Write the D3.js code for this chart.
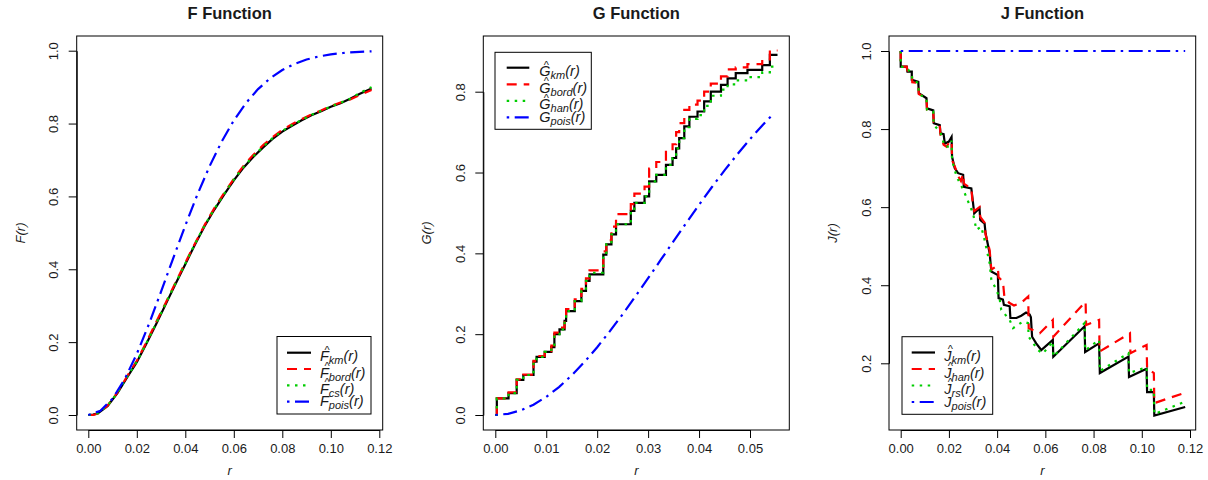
<!DOCTYPE html>
<html><head><meta charset="utf-8">
<script src="https://cdn.jsdelivr.net/npm/d3@7"></script>
<style>
body{margin:0;background:#fff}
svg{display:block}
text{font-family:"Liberation Sans",Arial,Helvetica,sans-serif;fill:#1a1a1a}
</style>
</head><body>
<svg id="c" width="1208" height="480"></svg>
<script>
// ---------------- DATA ----------------
// F function
const fR    = [0,0.002,0.004,0.008,0.012,0.016,0.020,0.024,0.028,0.032,0.036,0.040,0.044,0.048,0.052,0.056,0.060,0.064,0.068,0.072,0.076,0.080,0.084,0.088,0.092,0.096,0.100,0.104,0.108,0.112,0.1168];
const fKm   = [0,0.001,0.005,0.025,0.060,0.103,0.145,0.196,0.250,0.305,0.360,0.414,0.468,0.519,0.564,0.605,0.644,0.679,0.708,0.734,0.758,0.778,0.794,0.809,0.823,0.834,0.846,0.856,0.868,0.882,0.896];
const fBord = [0,0.000,0.004,0.026,0.062,0.106,0.149,0.200,0.255,0.309,0.364,0.418,0.471,0.522,0.568,0.609,0.648,0.684,0.714,0.740,0.763,0.783,0.798,0.812,0.825,0.836,0.848,0.858,0.866,0.879,0.892];
const fCs   = [0,0.001,0.005,0.026,0.061,0.105,0.147,0.198,0.252,0.307,0.362,0.416,0.470,0.521,0.566,0.607,0.646,0.681,0.710,0.736,0.760,0.780,0.796,0.810,0.824,0.835,0.847,0.857,0.868,0.884,0.900];
const fPoisR = [0,0.005,0.010,0.015,0.020,0.025,0.030,0.035,0.040,0.045,0.050,0.055,0.060,0.065,0.070,0.075,0.080,0.085,0.090,0.095,0.100,0.105,0.110,0.115,0.1168];
const fPois  = [0,0.0114,0.0449,0.0981,0.1677,0.2494,0.3384,0.4301,0.5202,0.6053,0.6826,0.7505,0.8084,0.8562,0.8945,0.9244,0.9470,0.9637,0.9757,0.9841,0.9899,0.9937,0.9961,0.9977,0.9982];

// G function (step functions)
const gR    = [0,0.0003,0.0026,0.0042,0.0055,0.0075,0.0081,0.0097,0.0110,0.0116,0.0126,0.0136,0.0139,0.0156,0.0169,0.0178,0.0185,0.0212,0.0218,0.0228,0.0237,0.0266,0.0273,0.0293,0.0302,0.0316,0.0335,0.0348,0.0355,0.0361,0.0371,0.0381,0.0397,0.0410,0.0423,0.0443,0.0456,0.0472,0.0495,0.0524,0.0539,0.0554];
const gKm   = [0,0.041,0.054,0.087,0.099,0.132,0.144,0.156,0.168,0.200,0.212,0.233,0.257,0.282,0.307,0.332,0.348,0.397,0.422,0.447,0.472,0.505,0.525,0.541,0.578,0.594,0.619,0.636,0.660,0.685,0.714,0.738,0.751,0.776,0.800,0.817,0.833,0.846,0.854,0.866,0.891,0.891];
const gBord = [0,0.041,0.056,0.088,0.100,0.134,0.146,0.158,0.172,0.204,0.216,0.238,0.262,0.286,0.312,0.338,0.358,0.405,0.432,0.466,0.497,0.522,0.548,0.565,0.610,0.626,0.655,0.670,0.700,0.722,0.755,0.768,0.778,0.800,0.820,0.838,0.855,0.860,0.868,0.880,0.902,0.902];
const gHan  = [0,0.041,0.054,0.087,0.099,0.132,0.144,0.156,0.168,0.200,0.212,0.233,0.257,0.282,0.307,0.332,0.352,0.397,0.422,0.447,0.472,0.505,0.525,0.541,0.578,0.594,0.619,0.636,0.660,0.685,0.712,0.733,0.742,0.765,0.790,0.805,0.818,0.828,0.836,0.848,0.862,0.862];
const gPoisR = [0,0.0025,0.005,0.0075,0.010,0.0125,0.015,0.0175,0.020,0.0225,0.025,0.0275,0.030,0.0325,0.035,0.0375,0.040,0.0425,0.045,0.0475,0.050,0.0525,0.0545];
const gPois  = [0,0.0029,0.0114,0.0255,0.0449,0.0692,0.0981,0.1312,0.1677,0.2074,0.2494,0.2933,0.3384,0.3842,0.4301,0.4756,0.5202,0.5636,0.6053,0.6450,0.6826,0.7178,0.7442];

// J function
const jKmR = [0,0,0.0025,0.0028,0.0046,0.0046,0.0073,0.0075,0.0107,0.0109,0.0135,0.0137,0.0162,0.0165,0.0178,0.0183,0.0200,0.0211,0.0213,0.0224,0.0238,0.0259,0.0262,0.0293,0.0297,0.0305,0.0327,0.0330,0.0348,0.0352,0.0369,0.0376,0.0403,0.0406,0.0424,0.0428,0.0452,0.0455,0.0480,0.0500,0.0520,0.0535,0.0540,0.0545,0.0562,0.0583,0.0631,0.0633,0.0763,0.0765,0.0823,0.0826,0.0945,0.0947,0.1020,0.1022,0.1050,0.1052,0.1180];
const jKm  = [1,0.96,0.96,0.947,0.947,0.926,0.921,0.892,0.879,0.853,0.848,0.815,0.81,0.789,0.787,0.763,0.768,0.78,0.729,0.70,0.687,0.683,0.652,0.648,0.627,0.584,0.597,0.567,0.558,0.533,0.482,0.435,0.426,0.367,0.363,0.35,0.346,0.316,0.316,0.322,0.33,0.325,0.318,0.268,0.251,0.234,0.26,0.217,0.295,0.229,0.251,0.175,0.217,0.165,0.186,0.126,0.126,0.066,0.088];
const jHanR = [0,0,0.0025,0.0028,0.0046,0.0048,0.0073,0.0075,0.0107,0.0109,0.0135,0.0137,0.0162,0.0165,0.0178,0.0190,0.0200,0.0211,0.0213,0.0224,0.0238,0.0250,0.0259,0.0262,0.0293,0.0297,0.0305,0.0327,0.0330,0.0348,0.0352,0.0369,0.0376,0.0395,0.0403,0.0406,0.0424,0.0430,0.0450,0.0470,0.0500,0.0529,0.0531,0.0577,0.0631,0.0633,0.0767,0.0769,0.0823,0.0825,0.0951,0.0953,0.1020,0.1022,0.1050,0.1052,0.1176];
const jHan  = [1,0.96,0.96,0.95,0.945,0.92,0.918,0.89,0.88,0.85,0.845,0.818,0.81,0.785,0.76,0.755,0.765,0.77,0.72,0.705,0.68,0.667,0.685,0.66,0.648,0.62,0.59,0.60,0.575,0.56,0.53,0.49,0.44,0.448,0.445,0.42,0.41,0.37,0.355,0.348,0.355,0.371,0.29,0.277,0.311,0.268,0.358,0.298,0.311,0.23,0.277,0.226,0.247,0.187,0.175,0.098,0.124];
const jRsR = [0,0,0.0025,0.0046,0.0048,0.0073,0.0075,0.0107,0.0109,0.0135,0.0137,0.0165,0.0183,0.0200,0.0211,0.0213,0.0232,0.0260,0.0300,0.0314,0.0334,0.0348,0.0369,0.0376,0.0397,0.0410,0.0417,0.0452,0.0466,0.0507,0.0528,0.0531,0.0569,0.0590,0.0631,0.0633,0.0763,0.0765,0.0823,0.0826,0.0945,0.0947,0.1020,0.1022,0.1050,0.1052,0.1180];
const jRs  = [1,0.96,0.958,0.94,0.925,0.918,0.89,0.878,0.85,0.845,0.812,0.79,0.755,0.755,0.77,0.72,0.678,0.644,0.584,0.542,0.55,0.516,0.456,0.414,0.388,0.367,0.337,0.311,0.29,0.307,0.303,0.268,0.234,0.225,0.256,0.217,0.303,0.233,0.26,0.18,0.226,0.175,0.19,0.132,0.132,0.07,0.102];
const jPoisR = [0,0.1180];
const jPois  = [1,1];

// Ticks and labels
const fXTicks = [0,0.02,0.04,0.06,0.08,0.10,0.12];
const fYTicks = [0,0.2,0.4,0.6,0.8,1.0];
const gXTicks = [0,0.01,0.02,0.03,0.04,0.05];
const gYTicks = [0,0.2,0.4,0.6,0.8];
const jXTicks = [0,0.02,0.04,0.06,0.08,0.10,0.12];
const jYTicks = [0.2,0.4,0.6,0.8,1.0];
const titles = ["F Function","G Function","J Function"];
const fSubs = ["km","bord","cs","pois"];
const gSubs = ["km","bord","han","pois"];
const jSubs = ["km","han","rs","pois"];
const hats  = [true,true,true,false];

// ---------------- STYLE ----------------
const COLORS = ["#000000","#FF0000","#00CD00","#0000FF"];
const DASHES = [null,"10,7","2.5,5.5","2.5,5.5,14,5.5"];
const LW = 2.2;

const svg = d3.select("#c");

function drawPanel(p){
  const g = svg.append("g");
  const x = d3.scaleLinear().domain(p.xDom).range(p.xRng);
  const y = d3.scaleLinear().domain(p.yDom).range(p.yRng);
  const [bx0,by0,bx1,by1] = p.box;

  p.series.forEach((s,i)=>{
    const pts = s.r.map((r,k)=>[r,s.v[k]]);
    const line = d3.line().x(d=>x(d[0])).y(d=>y(d[1]))
      .curve(s.step ? d3.curveStepAfter : d3.curveLinear);
    g.append("path").attr("d",line(pts)).attr("fill","none")
      .attr("stroke",COLORS[i]).attr("stroke-width",LW)
      .attr("stroke-dasharray",DASHES[i]);
  });

  g.append("rect").attr("x",bx0).attr("y",by0).attr("width",bx1-bx0).attr("height",by1-by0)
    .attr("fill","none").attr("stroke","#000").attr("stroke-width",1);

  const xa = g.append("g").attr("transform",`translate(0,${by1})`)
    .call(d3.axisBottom(x).tickValues(p.xTicks).tickSize(8).tickSizeOuter(0).tickPadding(6).tickFormat(p.xFmt));
  xa.selectAll("text").style("font-size","13px").attr("fill","#1a1a1a");
  xa.selectAll("line,path").attr("stroke","#000");

  const ya = g.append("g").attr("transform",`translate(${bx0},0)`)
    .call(d3.axisLeft(y).tickValues(p.yTicks).tickSize(8).tickSizeOuter(0).tickFormat(d3.format(".1f")));
  ya.selectAll("text").style("font-size","13px").attr("fill","#1a1a1a")
    .attr("x",null).attr("dy",null).attr("text-anchor","middle")
    .attr("transform","translate(-18.5,0) rotate(-90)");
  ya.selectAll("line,path").attr("stroke","#000");

  // title
  g.append("text").attr("x",(bx0+bx1)/2).attr("y",18.5).attr("text-anchor","middle")
    .style("font-size","16.5px").style("font-weight","bold").text(p.title);
  // x label
  g.append("text").attr("x",(bx0+bx1)/2).attr("y",475).attr("text-anchor","middle")
    .style("font-size","13px").style("font-style","italic").text("r");
  // y label
  g.append("text").attr("transform",`translate(${bx0-52},${(by0+by1)/2}) rotate(-90)`)
    .attr("text-anchor","middle").style("font-size","13px").style("font-style","italic")
    .text(p.letter+"(r)");

  // legend
  const L = p.legend;
  g.append("rect").attr("x",L.x0).attr("y",L.y0).attr("width",L.x1-L.x0).attr("height",L.y1-L.y0)
    .attr("fill","#fff").attr("stroke","#000").attr("stroke-width",1);
  p.subs.forEach((sub,i)=>{
    const ly = L.rows[i];
    g.append("line").attr("x1",L.lx0).attr("x2",L.lx1).attr("y1",ly).attr("y2",ly)
      .attr("stroke",COLORS[i]).attr("stroke-width",LW).attr("stroke-dasharray",DASHES[i]);
    const base = ly + (hats[i] ? 8.5 : 4.5);
    const t = g.append("text").attr("x",L.tx).attr("y",base).style("font-style","italic").attr("fill","#2a2a3a");
    t.append("tspan").style("font-size","14.5px").text(p.letter);
    t.append("tspan").style("font-size","11px").attr("dy",3).text(sub);
    t.append("tspan").style("font-size","14.5px").attr("dy",-3).text("(r)");
    if(hats[i]){
      g.append("text").attr("x",L.tx+(p.letter==="J"?3.5:4.5)).attr("y",base-7.6)
        .style("font-size","11px").attr("fill","#2a2a3a").text("^");
    }
  });
}

const f2 = d3.format(".2f");

drawPanel({
  title:titles[0], letter:"F", subs:fSubs,
  box:[76.7,36,382.7,430],
  xDom:[0,0.12], xRng:[88.3,379.3], yDom:[0,1], yRng:[415,50.7],
  xTicks:fXTicks, yTicks:fYTicks, xFmt:f2,
  series:[{r:fR,v:fKm},{r:fR,v:fBord},{r:fR,v:fCs},{r:fPoisR,v:fPois}],
  legend:{x0:277,y0:336.5,x1:371,y1:414,lx0:287,lx1:311,tx:320,rows:[352.7,369,385.3,401.7]}
});
drawPanel({
  title:titles[1], letter:"G", subs:gSubs,
  box:[483.3,36,789.3,430],
  xDom:[0,0.05], xRng:[495.3,750], yDom:[0,0.8], yRng:[415,91.7],
  xTicks:gXTicks, yTicks:gYTicks, xFmt:f2,
  series:[{r:gR,v:gKm,step:true},{r:gR,v:gBord,step:true},{r:gR,v:gHan,step:true},{r:gPoisR,v:gPois}],
  legend:{x0:495,y0:52.3,x1:591.3,y1:129.3,lx0:506.7,lx1:529.3,tx:539.3,rows:[67.7,84.3,100.8,117.3]}
});
drawPanel({
  title:titles[2], letter:"J", subs:jSubs,
  box:[889,36,1195.7,430],
  xDom:[0,0.12], xRng:[900.7,1190], yDom:[0.2,1.0], yRng:[363.3,51],
  xTicks:jXTicks, yTicks:jYTicks, xFmt:f2,
  series:[{r:jKmR,v:jKm},{r:jHanR,v:jHan},{r:jRsR,v:jRs},{r:jPoisR,v:jPois}],
  legend:{x0:902,y0:336.7,x1:992.7,y1:414.3,lx0:911.7,lx1:935,tx:944.3,rows:[352.5,369,385.5,402]}
});
</script>
</body></html>
